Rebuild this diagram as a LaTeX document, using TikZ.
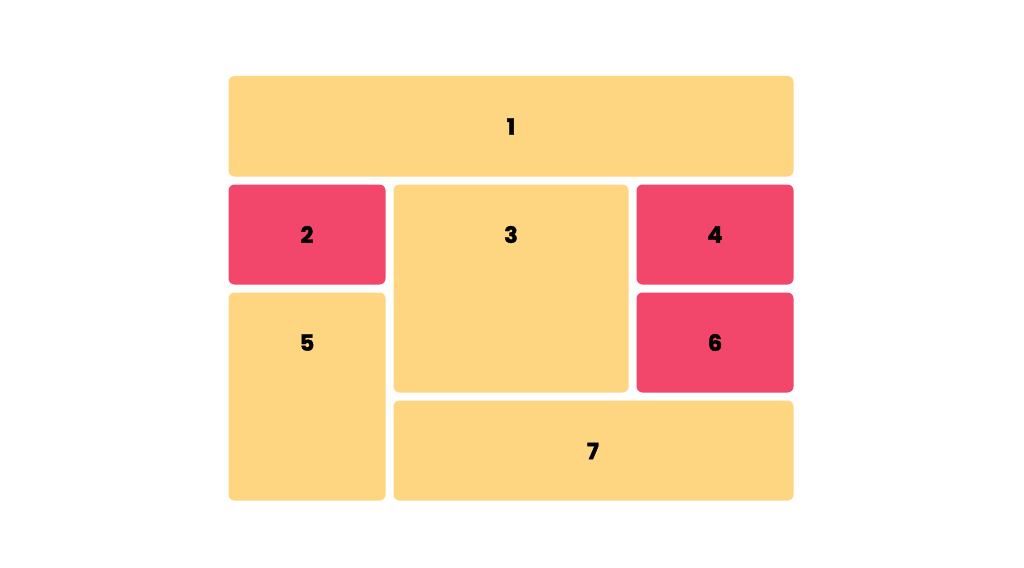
\documentclass[tikz,border=0pt]{standalone}
\usepackage{fontspec}
\setmainfont{Poppins}[BoldFeatures={FakeBold=1.6}]
\definecolor{cellyellow}{HTML}{FED580}
\definecolor{cellred}{HTML}{F2466A}
\begin{document}
\begin{tikzpicture}[x=1pt,y=-1pt,
  cell/.style={rounded corners=6pt},
  lbl/.style={font=\fontsize{22.5}{22.5}\selectfont\bfseries, text=black, inner sep=0pt}]
\useasboundingbox (0,0) rectangle (1024,567);
\fill[white] (0,0) rectangle (1024,567);
\fill[cellyellow,cell] (228.5,76) rectangle (793.5,176.5);
\fill[cellred,cell] (228.5,184.5) rectangle (385.5,284.5);
\fill[cellyellow,cell] (393.5,184.5) rectangle (628.5,392.5);
\fill[cellred,cell] (636.5,184.5) rectangle (793.5,284.5);
\fill[cellyellow,cell] (228.5,292.5) rectangle (385.5,500.5);
\fill[cellred,cell] (636.5,292.5) rectangle (793.5,392.5);
\fill[cellyellow,cell] (393.5,400.5) rectangle (793.5,500.5);
\node[lbl] (l1) at (511,126.5) {1};
\node[lbl] (l2) at (307,234.5) {2};
\node[lbl] (l3) at (511,234.5) {3};
\node[lbl] (l4) at (715,234.5) {4};
\node[lbl] (l5) at (307,342.5) {5};
\node[lbl] (l6) at (715,342.5) {6};
\node[lbl] (l7) at (593,451) {7};
\end{tikzpicture}
\end{document}
